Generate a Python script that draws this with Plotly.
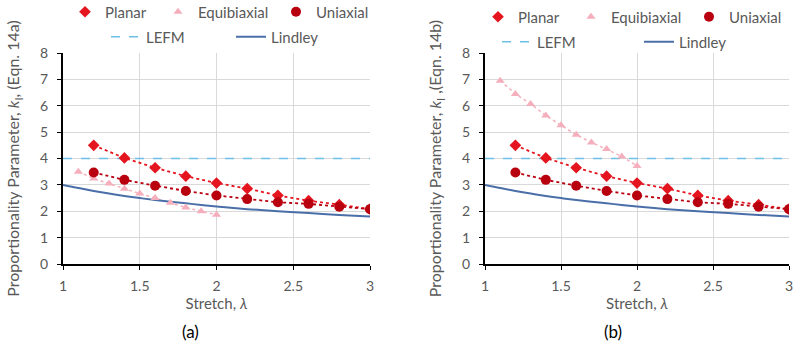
import plotly.graph_objects as go

# ---- data ----
stretch_pu = [1.2, 1.4, 1.6, 1.8, 2.0, 2.2, 2.4, 2.6, 2.8, 3.0]
planar = [4.50, 4.02, 3.65, 3.33, 3.07, 2.86, 2.60, 2.40, 2.25, 2.08]
uniaxial = [3.47, 3.19, 2.97, 2.77, 2.60, 2.46, 2.34, 2.28, 2.17, 2.08]

stretch_eq = [1.1, 1.2, 1.3, 1.4, 1.5, 1.6, 1.7, 1.8, 1.9, 2.0]
equi_a = [3.50, 3.24, 3.05, 2.85, 2.67, 2.50, 2.32, 2.14, 2.00, 1.87]
equi_b = [6.95, 6.45, 6.07, 5.63, 5.26, 4.90, 4.61, 4.36, 4.08, 3.72]

lefm_x = [1.0, 3.0]
lefm_y = [4.0, 4.0]

lindley_x = [1.0, 1.1, 1.2, 1.3, 1.4, 1.5, 1.6, 1.7, 1.8, 1.9, 2.0, 2.2, 2.4, 2.6, 2.8, 3.0]
lindley_y = [3.00, 2.88, 2.77, 2.67, 2.58, 2.50, 2.43, 2.36, 2.30, 2.24, 2.18, 2.08, 2.00, 1.93, 1.86, 1.80]

x_ticks = [1, 1.5, 2, 2.5, 3]
x_ticklabels = ["1", "1.5", "2", "2.5", "3"]
y_ticks = [0, 1, 2, 3, 4, 5, 6, 7, 8]

panels = ["(a)", "(b)"]
y_titles = ["Proportionality Parameter, <i>k</i><sub>I</sub>, (Eqn. 14a)",
            "Proportionality Parameter, <i>k</i><sub>I</sub> ,(Eqn. 14b)"]

# ---- styles ----
C_PLANAR = "#E4151F"
C_UNI = "#B8000F"
C_EQUI = "#F5AFBC"
C_LEFM = "#6DC0E8"
C_LIND = "#4A6FA8"
FONT = "Lato"
GREY = "#595959"
FS = 15

W, H = 795, 346


def px(x):
    return x / W


def py(y):
    return (H - y) / H


fig = go.Figure()

dom_x = [[px(63), px(370)], [px(485), px(789)]]
dom_y = [py(264), py(53)]

# legend entry placement (left edge of entry, centre row) per panel
leg_pos = [
    {"Planar": (65, 12), "Equibiaxial": (158, 12), "Uniaxial": (276, 12),
     "LEFM": (106, 37), "Lindley": (231, 37)},
    {"Planar": (478, 17), "Equibiaxial": (571, 17), "Uniaxial": (689, 17),
     "LEFM": (497, 42), "Lindley": (639, 42)},
]

legend_common = dict(orientation="h", xanchor="left", yanchor="middle", bgcolor="rgba(0,0,0,0)",
                     font=dict(family=FONT, size=FS, color=GREY), itemwidth=30, tracegroupgap=0)
layout = dict(width=W, height=H, margin=dict(l=0, r=0, t=0, b=0, autoexpand=False),
              paper_bgcolor="white", plot_bgcolor="white",
              font=dict(family=FONT, size=FS, color=GREY))

leg_counter = [0]


def new_legend(pos):
    leg_counter[0] += 1
    key = "legend" if leg_counter[0] == 1 else "legend%d" % leg_counter[0]
    layout[key] = dict(legend_common, x=px(pos[0]), y=py(pos[1]))
    return key


equis = [equi_a, equi_b]
for i in range(2):
    xa = "x" if i == 0 else "x2"
    ya = "y" if i == 0 else "y2"
    lp = leg_pos[i]
    fig.add_trace(go.Scatter(x=stretch_eq, y=equis[i], mode="lines", xaxis=xa, yaxis=ya,
                             line=dict(color=C_EQUI, width=1.5, dash="dot"), showlegend=False))
    fig.add_trace(go.Scatter(x=stretch_pu, y=planar, mode="lines", xaxis=xa, yaxis=ya,
                             line=dict(color=C_PLANAR, width=1.8, dash="dot"), showlegend=False))
    fig.add_trace(go.Scatter(x=stretch_pu, y=uniaxial, mode="lines", xaxis=xa, yaxis=ya,
                             line=dict(color=C_UNI, width=1.8, dash="dot"), showlegend=False))
    fig.add_trace(go.Scatter(x=lefm_x, y=lefm_y, mode="lines", name="LEFM", xaxis=xa, yaxis=ya,
                             line=dict(color=C_LEFM, width=1.5, dash="dash"),
                             legend=new_legend(lp["LEFM"])))
    fig.add_trace(go.Scatter(x=lindley_x, y=lindley_y, mode="lines", name="Lindley", xaxis=xa, yaxis=ya,
                             line=dict(color=C_LIND, width=2, shape="spline"),
                             legend=new_legend(lp["Lindley"])))
    fig.add_trace(go.Scatter(x=stretch_pu, y=planar, mode="markers", name="Planar", xaxis=xa, yaxis=ya,
                             marker=dict(symbol="diamond", size=9, color=C_PLANAR),
                             legend=new_legend(lp["Planar"])))
    fig.add_trace(go.Scatter(x=stretch_eq, y=equis[i], mode="markers", name="Equibiaxial", xaxis=xa, yaxis=ya,
                             marker=dict(symbol="triangle-up", size=8, color=C_EQUI),
                             legend=new_legend(lp["Equibiaxial"])))
    fig.add_trace(go.Scatter(x=stretch_pu, y=uniaxial, mode="markers", name="Uniaxial", xaxis=xa, yaxis=ya,
                             marker=dict(symbol="circle", size=10, color=C_UNI),
                             legend=new_legend(lp["Uniaxial"])))

axis_common = dict(showgrid=True, gridcolor="#D9D9D9", gridwidth=1, zeroline=False,
                   showline=True, linecolor="#000000", linewidth=2, ticks="outside",
                   ticklen=4, tickcolor="#000000", automargin=False,
                   tickfont=dict(family=FONT, size=FS - 1, color=GREY))

for i in range(2):
    sx = "" if i == 0 else "2"
    layout["xaxis" + sx] = dict(axis_common, domain=dom_x[i], range=[1, 3], tickvals=x_ticks,
                                ticktext=x_ticklabels, anchor="y" + sx, ticklabelstandoff=4,
                                title=dict(text="Stretch, <i>λ</i>", standoff=2,
                                           font=dict(family=FONT, size=FS, color=GREY)))
    layout["yaxis" + sx] = dict(axis_common, domain=dom_y, range=[0, 8], tickvals=y_ticks,
                                anchor="x" + sx, ticklabelstandoff=6,
                                title=dict(text=y_titles[i], standoff=16,
                                           font=dict(family=FONT, size=16, color=GREY)))

layout["annotations"] = [
    dict(text=panels[0], x=px(190), y=py(331), xref="paper", yref="paper", showarrow=False,
         xanchor="center", yanchor="middle", font=dict(family=FONT, size=17, color="#000000")),
    dict(text=panels[1], x=px(613), y=py(331), xref="paper", yref="paper", showarrow=False,
         xanchor="center", yanchor="middle", font=dict(family=FONT, size=17, color="#000000")),
]

fig.update_layout(**layout)
fig.write_html("out.html", config={"displayModeBar": False},
               post_script="document.body.style.margin='0px';")
